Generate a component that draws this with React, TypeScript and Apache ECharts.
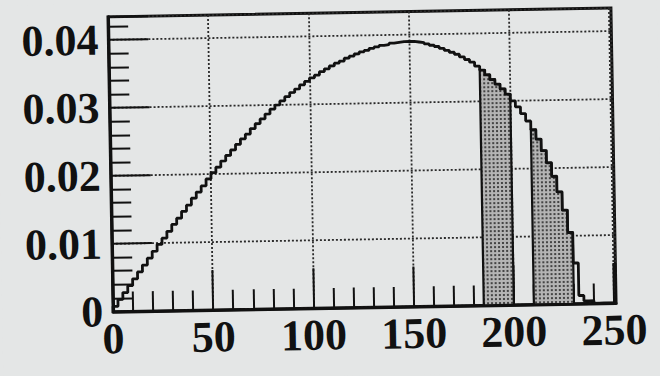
import React, { useEffect, useRef } from "react";
import * as echarts from "echarts";

// Histogram bins: width 2.5, from 0 to 250 (left edges = index * binWidth)
const binWidth = 2.5;
const binValues: number[] = [
  0.0008, 0.0018, 0.0028, 0.0038, 0.0048, 0.0058, 0.0068, 0.0078, 0.0088, 0.0098,
  0.0107, 0.0117, 0.0127, 0.0136, 0.0146, 0.0155, 0.0165, 0.0174, 0.0183, 0.0193,
  0.0202, 0.0210, 0.0219, 0.0227, 0.0235, 0.0243, 0.0251, 0.0258, 0.0266, 0.0273,
  0.0280, 0.0287, 0.0294, 0.0300, 0.0306, 0.0312, 0.0318, 0.0323, 0.0329, 0.0334,
  0.0339, 0.0343, 0.0348, 0.0352, 0.0356, 0.0360, 0.0363, 0.0367, 0.0370, 0.0373,
  0.0376, 0.0378, 0.0381, 0.0383, 0.0385, 0.0386, 0.0388, 0.0389, 0.0390, 0.0390,
  0.0390, 0.0389, 0.0388, 0.0386, 0.0384, 0.0382, 0.0379, 0.0376, 0.0373, 0.0370,
  0.0366, 0.0362, 0.0358, 0.0352, 0.0346, 0.0339, 0.0332, 0.0325, 0.0318, 0.0310,
  0.0300, 0.0291, 0.0281, 0.0270, 0.0257, 0.0243, 0.0226, 0.0208, 0.0188, 0.0165,
  0.0138, 0.0105, 0.0060, 0.0012, 0.0004, 0.0004, 0, 0, 0, 0,
];
// Shaded (selected) ranges on the x axis
const shadedRanges: [number, number][] = [
  [185, 200],
  [210, 230],
];
const xTicks = [0, 50, 100, 150, 200, 250];
const yTicks = [0, 0.01, 0.02, 0.03, 0.04];

function makePattern(): HTMLCanvasElement {
  const c = document.createElement("canvas");
  c.width = 4;
  c.height = 4;
  const ctx = c.getContext("2d")!;
  ctx.fillStyle = "#b4b4b4";
  ctx.fillRect(0, 0, 4, 4);
  ctx.fillStyle = "#444444";
  ctx.fillRect(1, 1, 2, 2);
  return c;
}

export default function App() {
  const ref = useRef<HTMLDivElement>(null);
  useEffect(() => {
    if (!ref.current) return;
    const chart = echarts.init(ref.current, undefined, { renderer: "svg" });
    const stepData: number[][] = [[0, 0]];
    binValues.forEach((v, i) => stepData.push([i * binWidth, v]));
    stepData.push([binValues.length * binWidth, 0]);
    const pattern = makePattern();
    const ink = "#111111";
    const labelFont = {
      fontFamily: "Liberation Serif",
      fontWeight: "bold" as const,
      fontSize: 44,
      color: ink,
    };
    const tickStyle = { color: ink, width: 2 };
    chart.setOption({
      animation: false,
      backgroundColor: "#e4e6e6",
      grid: {
        left: 111,
        top: 13,
        right: 46,
        bottom: 68,
        show: true,
        borderColor: ink,
        borderWidth: 3,
        backgroundColor: "transparent",
      },
      xAxis: {
        type: "value",
        min: 0,
        max: 251,
        interval: 50,
        axisLine: { show: true, lineStyle: { color: ink, width: 3 } },
        axisTick: { show: true, inside: true, length: 40, lineStyle: tickStyle },
        minorTick: { show: true, splitNumber: 5, length: 20, lineStyle: tickStyle },
        axisLabel: {
          ...labelFont,
          margin: 5,
          formatter: (v: number) => (xTicks.includes(v) ? String(v) : ""),
        },
        splitLine: { show: true, lineStyle: { color: "#2a2a2a", width: 1.8, type: [2, 2] } },
      },
      yAxis: {
        type: "value",
        min: 0,
        max: 0.0434,
        interval: 0.01,
        axisLine: { show: true, lineStyle: { color: ink, width: 3 } },
        axisTick: { show: true, inside: true, length: 40, lineStyle: tickStyle },
        minorTick: { show: true, splitNumber: 5, length: 20, lineStyle: tickStyle },
        axisLabel: {
          ...labelFont,
          margin: 10,
          formatter: (v: number) => {
            const t = yTicks.find((y) => Math.abs(y - v) < 1e-9);
            return t === undefined ? "" : t === 0 ? "0" : t.toFixed(2);
          },
        },
        splitLine: { show: true, lineStyle: { color: "#2a2a2a", width: 1.8, type: [2, 2] } },
      },
      series: [
        {
          type: "custom",
          z: 2,
          data: shadedRanges,
          renderItem: (params: any, api: any) => {
            const s = api.value(0);
            const e = api.value(1);
            const pts: number[][] = [api.coord([s, 0])];
            binValues.forEach((v, i) => {
              const x0 = i * binWidth;
              const x1 = x0 + binWidth;
              if (x0 >= s - 1e-9 && x1 <= e + 1e-9) {
                pts.push(api.coord([x0, v]));
                pts.push(api.coord([x1, v]));
              }
            });
            pts.push(api.coord([e, 0]));
            return {
              type: "polygon",
              shape: { points: pts },
              style: {
                fill: { image: pattern, repeat: "repeat" },
                stroke: ink,
                lineWidth: 2.2,
              },
            };
          },
        },
        {
          type: "line",
          z: 3,
          step: "end",
          data: stepData,
          symbol: "none",
          lineStyle: { color: ink, width: 2.8 },
        },
      ],
    });
    return () => chart.dispose();
  }, []);
  return (
    <div
      style={{
        position: "fixed",
        left: 0,
        top: 0,
        width: 660,
        height: 376,
        overflow: "hidden",
        background: "#e4e6e6",
      }}
    >
      <div
        ref={ref}
        style={{ width: 660, height: 376, transform: "rotate(-1deg)", transformOrigin: "50% 50%" }}
      />
    </div>
  );
}
